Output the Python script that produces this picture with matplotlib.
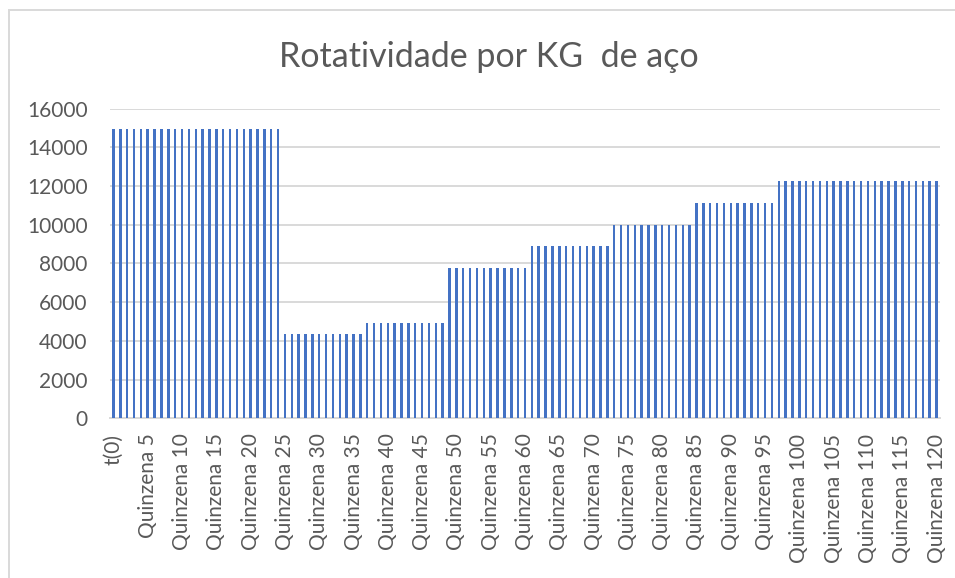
import matplotlib
matplotlib.use("Agg")
import matplotlib.pyplot as plt
from matplotlib.patches import Rectangle

plt.rcParams["font.family"] = ["Lato", "DejaVu Sans"]

# step levels (value, number of fortnights at that value)
levels = [14950, 4330, 4900, 7740, 8880, 10000, 11130, 12270]
counts = [25, 12, 12, 12, 12, 12, 12, 24]

values = []
for v, n in zip(levels, counts):
    values += [v] * n
categories = ["t(0)"] + [f"Quinzena {i}" for i in range(1, len(values))]
ytick_vals = [0, 2000, 4000, 6000, 8000, 10000, 12000, 14000, 16000]

TXT = "#595959"
GRID = "#D9D9D9"
BAR = "#4472C4"

W, H = 955, 578
fig = plt.figure(figsize=(W / 100, H / 100), dpi=100)
ax = fig.add_axes([110 / W, 1 - 418.3 / H, 830 / W, (418.3 - 108.6) / H])

x = list(range(len(values)))
ax.bar(x, values, width=0.36, color=BAR, zorder=3)
ax.set_xlim(-0.5, len(values) - 0.5)
ax.set_ylim(0, 16000)
ax.set_yticks(ytick_vals)
ax.set_yticklabels([str(v) for v in ytick_vals], fontsize=15, color=TXT)
ax.yaxis.grid(True, color=GRID, lw=1.4, zorder=0)
ax.tick_params(axis="y", length=0, pad=16)

ax.set_xticks(x[::5])
ax.set_xticklabels(categories[::5], rotation=90, fontsize=15, color=TXT)
ax.tick_params(axis="x", length=0, pad=11)

for s in ["top", "right", "left"]:
    ax.spines[s].set_visible(False)
ax.spines["bottom"].set_color(GRID)
ax.spines["bottom"].set_linewidth(1.4)

fig.text(489 / W, 1 - 66.7 / H, "Rotatividade por KG  de aço", fontsize=24.5,
         color=TXT, ha="center", va="baseline")

fig.patches.append(Rectangle((9 / W, -0.1), 1.2, 1 - 10 / H + 0.1,
                             transform=fig.transFigure, fill=False,
                             edgecolor=GRID, lw=1.4))

fig.savefig("out.png", dpi=100, facecolor="white")
